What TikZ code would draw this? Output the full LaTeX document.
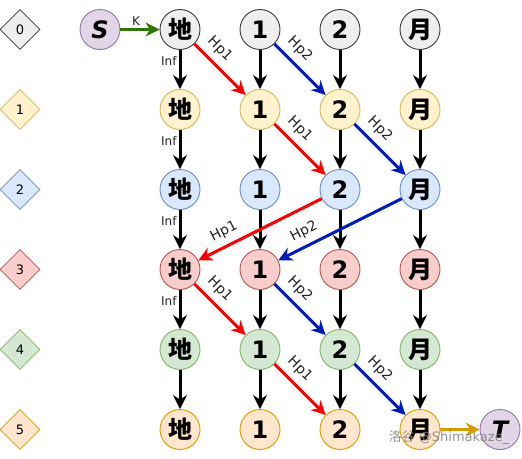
\documentclass[tikz,border=0pt]{standalone}
\usepackage{fontspec}
\setmainfont{DejaVu Sans}
\newfontfamily\cjkfont{Noto Sans CJK SC}
\usetikzlibrary{shapes.geometric,arrows.meta}
\definecolor{cfill0}{HTML}{EEEEEE}\definecolor{cdraw0}{HTML}{36393D}
\definecolor{cfill1}{HTML}{FFF2CC}\definecolor{cdraw1}{HTML}{D6B656}
\definecolor{cfill2}{HTML}{DAE8FC}\definecolor{cdraw2}{HTML}{6C8EBF}
\definecolor{cfill3}{HTML}{F8CECC}\definecolor{cdraw3}{HTML}{B85450}
\definecolor{cfill4}{HTML}{D5E8D4}\definecolor{cdraw4}{HTML}{82B366}
\definecolor{cfill5}{HTML}{FFE6CC}\definecolor{cdraw5}{HTML}{D79B00}
\definecolor{pfill}{HTML}{E1D5E7}\definecolor{pdraw}{HTML}{9673A6}
\definecolor{ered}{HTML}{FF0000}
\definecolor{eblue}{HTML}{001DBC}
\definecolor{egreen}{HTML}{2D7600}
\definecolor{eorange}{HTML}{D79B00}
\definecolor{labtext}{HTML}{222222}
\tikzset{
  circ/.style={circle, minimum size=40pt, inner sep=0pt, line width=0.9pt, text=black,
    font=\bfseries\fontsize{24}{24}\selectfont},
  stnode/.style={circ, fill=pfill, draw=pdraw,
    font=\bfseries\itshape\fontsize{24}{24}\selectfont},
  dia/.style={diamond, minimum width=40pt, minimum height=40pt, inner sep=0pt,
    line width=0.8pt, text=black, font=\fontsize{13}{13}\selectfont},
  arr/.style={line width=3pt, -{Stealth[length=14pt,width=14pt,inset=4.5pt]}},
  hp/.style={pos=0.3, sloped, above=5pt, inner sep=1pt, text=labtext,
    font=\fontsize{14}{14}\selectfont},
  hpb/.style={hp, pos=0.74},
  inflabel/.style={pos=0.27, left, inner sep=2pt, text=labtext,
    font=\fontsize{12}{12}\selectfont},
}
\begin{document}
\begin{tikzpicture}[x=1pt,y=-1pt]
\useasboundingbox (0,0) rectangle (522,458);
\foreach \r in {0,...,5}{
  \pgfmathsetmacro{\yy}{29.5+80*\r}
  \node[dia, fill=cfill\r, draw=cdraw\r] (d\r) at (20,\yy) {\r};
  \node[circ, fill=cfill\r, draw=cdraw\r] (n1\r) at (180,\yy) {\cjkfont\bfseries 地};
  \node[circ, fill=cfill\r, draw=cdraw\r] (n2\r) at (260,\yy) {1};
  \node[circ, fill=cfill\r, draw=cdraw\r] (n3\r) at (340,\yy) {2};
  \node[circ, fill=cfill\r, draw=cdraw\r] (n4\r) at (420,\yy) {\cjkfont\bfseries 月};
}
\node[stnode] (S) at (100,29.5) {S};
\node[stnode] (T) at (500,429.5) {T};
% vertical edges
\foreach \c in {1,2,3,4}{
  \foreach \r [evaluate=\r as \s using int(\r+1)] in {0,...,4}{
    \ifnum\c=1
      \ifnum\r<4
        \draw[arr] (n\c\r) -- node[inflabel]{Inf} (n\c\s);
      \else
        \draw[arr] (n\c\r) -- (n\c\s);
      \fi
    \else
      \draw[arr] (n\c\r) -- (n\c\s);
    \fi
  }
}
% diagonal edges
\draw[arr, ered]  (n10) -- node[hp]{Hp1} (n21);
\draw[arr, eblue] (n20) -- node[hp]{Hp2} (n31);
\draw[arr, ered]  (n21) -- node[hp]{Hp1} (n32);
\draw[arr, eblue] (n31) -- node[hp]{Hp2} (n42);
\draw[arr, ered]  (n32) -- node[hpb]{Hp1} (n13);
\draw[arr, eblue] (n42) -- node[hpb]{Hp2} (n23);
\draw[arr, ered]  (n13) -- node[hp]{Hp1} (n24);
\draw[arr, eblue] (n23) -- node[hp]{Hp2} (n34);
\draw[arr, ered]  (n24) -- node[hp]{Hp1} (n35);
\draw[arr, eblue] (n34) -- node[hp]{Hp2} (n45);
\draw[arr, egreen] (S) -- node[pos=0.4, above=2pt, inner sep=1pt, text=labtext,
  font=\fontsize{12}{12}\selectfont]{K} (n10);
\draw[arr, eorange] (n45) -- (T);
\node[text=gray, opacity=0.85, font=\fontsize{13}{13}\selectfont] (wm) at (449,438) {{\cjkfont 洛谷} @Shimakaze\_};
\end{tikzpicture}
\end{document}
